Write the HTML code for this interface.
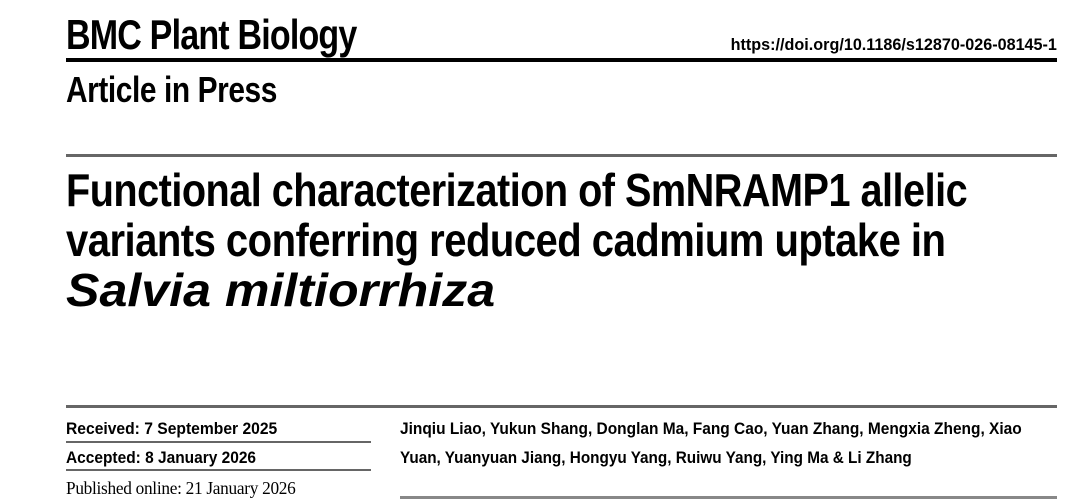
<!DOCTYPE html>
<html><head><meta charset="utf-8"><style>
html,body{margin:0;padding:0;background:#fff;}
body{width:1088px;height:503px;position:relative;overflow:hidden;font-family:"Liberation Sans Narrow","Liberation Sans",sans-serif;color:#000;}
.t{position:absolute;white-space:nowrap;font-weight:bold;line-height:1;transform-origin:0 0;}
.l{position:absolute;}
</style></head><body>
<div class="t" style="left:66px;top:14px;font-size:42px;letter-spacing:-1px;transform:scaleX(0.81);">BMC Plant Biology</div>
<div class="t" style="right:31px;top:37px;font-size:16.5px;transform:scaleX(0.98);transform-origin:100% 0;">https://doi.org/10.1186/s12870-026-08145-1</div>
<div class="l" style="left:66px;top:58px;width:991px;height:4px;background:#000;"></div>
<div class="t" style="left:66px;top:72px;font-size:36px;letter-spacing:-0.5px;transform:scaleX(0.83);">Article in Press</div>
<div class="l" style="left:66px;top:154px;width:991px;height:3px;background:#666;"></div>
<div class="t" style="left:66px;top:167px;font-size:46px;letter-spacing:-0.6px;transform:scaleX(0.862);">Functional characterization of SmNRAMP1 allelic</div>
<div class="t" style="left:66px;top:217px;font-size:46px;letter-spacing:-0.6px;transform:scaleX(0.87);">variants conferring reduced cadmium uptake in</div>
<div class="t" style="left:66px;top:267px;font-size:46px;font-style:italic;font-family:'Liberation Sans',sans-serif;transform:scaleX(1.09);">Salvia miltiorrhiza</div>
<div class="l" style="left:66px;top:405px;width:991px;height:3px;background:#666;"></div>
<div class="t" style="left:66px;top:420px;font-size:17px;transform:scaleX(0.92);">Received: 7 September 2025</div>
<div class="l" style="left:66px;top:441px;width:305px;height:2px;background:#666;"></div>
<div class="t" style="left:66px;top:449px;font-size:17px;transform:scaleX(0.91);">Accepted: 8 January 2026</div>
<div class="l" style="left:66px;top:469px;width:305px;height:2px;background:#666;"></div>
<div class="t" style="left:66px;top:479px;font-size:18px;font-weight:normal;font-family:'Liberation Serif',serif;letter-spacing:-0.3px;transform:scaleX(0.96);">Published online: 21 January 2026</div>
<div class="t" style="left:400px;top:420px;font-size:17px;transform:scaleX(0.91);">Jinqiu Liao, Yukun Shang, Donglan Ma, Fang Cao, Yuan Zhang, Mengxia Zheng, Xiao</div>
<div class="t" style="left:400px;top:449px;font-size:17px;transform:scaleX(0.90);">Yuan, Yuanyuan Jiang, Hongyu Yang, Ruiwu Yang, Ying Ma &amp; Li Zhang</div>
<div class="l" style="left:400px;top:496px;width:657px;height:3px;background:#888;"></div>
</body></html>
